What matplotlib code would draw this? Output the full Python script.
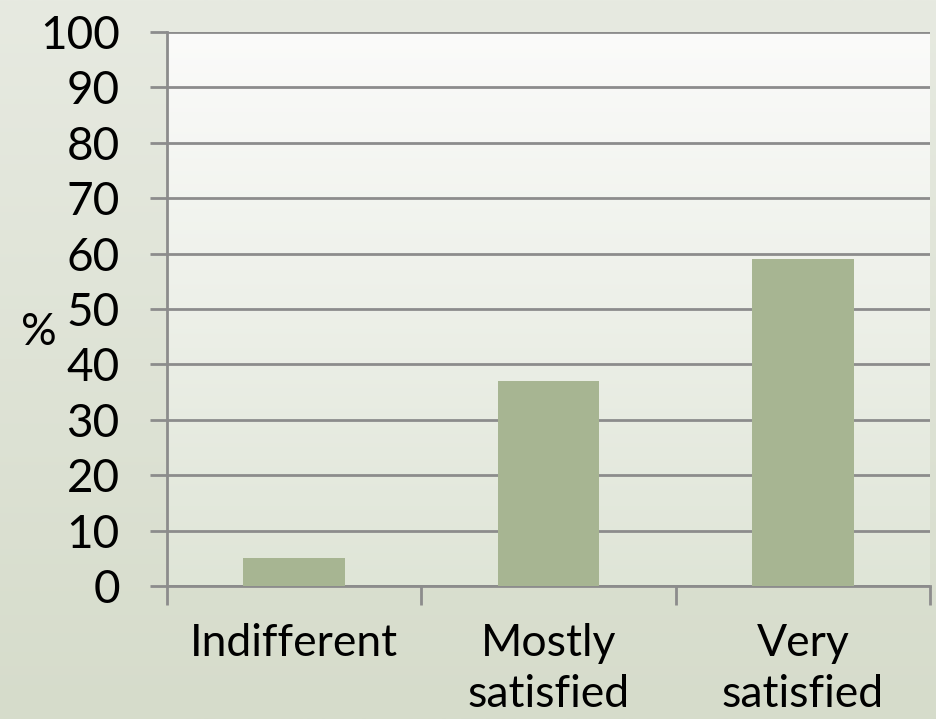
import numpy as np
import matplotlib
matplotlib.use("Agg")
import matplotlib.pyplot as plt
from matplotlib.colors import LinearSegmentedColormap

categories = ["Indifferent", "Mostly\nsatisfied", "Very\nsatisfied"]
values = [5, 37, 59]
yticks = [0, 10, 20, 30, 40, 50, 60, 70, 80, 90, 100]

plt.rcParams['font.family'] = ['Lato', 'DejaVu Sans']

fig = plt.figure(figsize=(9.37, 7.19), dpi=100)

# figure background gradient
bg = fig.add_axes([0, 0, 1, 1], zorder=-10)
bg_cmap = LinearSegmentedColormap.from_list("bg", ["#e7eae1", "#d6dccb"])
bg.imshow(np.linspace(0, 1, 256).reshape(-1, 1), aspect='auto', cmap=bg_cmap,
          extent=[0, 1, 0, 1], origin='upper')
bg.axis('off')

W, H = 937, 719
left, right, top, bottom = 167, 930, 32, 586
ax = fig.add_axes([left / W, 1 - bottom / H, (right - left) / W, (bottom - top) / H])
ax.set_facecolor('none')

# plot area gradient
pa_cmap = LinearSegmentedColormap.from_list("pa", ["#fbfbfa", "#dfe5d7"])
ax.imshow(np.linspace(0, 1, 256).reshape(-1, 1), aspect='auto', cmap=pa_cmap,
          extent=[-0.5, 2.5, 0, 100], origin='upper', zorder=0)

x = np.arange(len(categories))
ax.bar(x, values, width=0.4, color="#a7b592", zorder=3)

ax.set_xlim(-0.5, 2.5)
ax.set_ylim(0, 100)
ax.set_yticks(yticks)
ax.set_yticklabels([str(v) for v in yticks], fontsize=33)
for v in yticks:
    ax.axhline(v, color="#8c8c8c", lw=2, zorder=2)

ax.set_xticks([-0.5, 0.5, 1.5, 2.5], minor=False)
ax.set_xticklabels([])
ax.set_xticks(x, minor=True)
ax.set_xticklabels(categories, minor=True, fontsize=32, linespacing=1.3)
ax.tick_params(axis='x', which='major', length=14, width=2, color="#8c8c8c")
ax.tick_params(axis='x', which='minor', length=0, pad=27)
ax.tick_params(axis='y', length=12, width=2, color="#8c8c8c", pad=22)

for s in ['top', 'right']:
    ax.spines[s].set_visible(False)
ax.spines['left'].set_color("#8c8c8c")
ax.spines['left'].set_linewidth(2)
ax.spines['bottom'].set_color("#8c8c8c")
ax.spines['bottom'].set_linewidth(2)

ax.set_ylabel("%", rotation=0, fontsize=32, va='bottom', ha='center')
ax.yaxis.set_label_coords(-0.168, 0.42)

fig.savefig("out.png", dpi=100)
